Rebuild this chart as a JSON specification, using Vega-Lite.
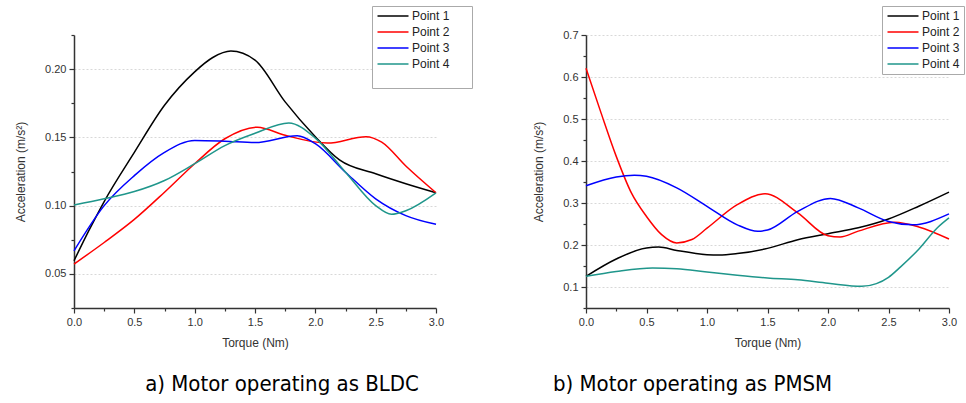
{
  "$schema": "https://vega.github.io/schema/vega-lite/v6.json",
  "padding": {"left": 14, "top": 5, "right": 2, "bottom": 8},
  "bounds": "flush",
  "spacing": 150,
  "background": "white",
  "config": {
    "view": {"stroke": null},
    "axis": {
      "labelFont": "Liberation Sans", "labelFontSize": 11, "labelColor": "#333",
      "titleFont": "Liberation Sans", "titleFontSize": 12, "titleColor": "#333", "titleFontWeight": "normal",
      "domainColor": "#333", "domainWidth": 1.5, "tickColor": "#333", "tickWidth": 1.2,
      "labelOverlap": false, "labelFlush": false
    },
    "legend": {
      "orient": "none", "strokeColor": "#aaa", "fillColor": "white", "padding": 4,
      "symbolType": "M-3.1,0H3.1", "symbolSize": 100, "symbolStrokeWidth": 1.5, "symbolOffset": 11,
      "labelFont": "Liberation Sans", "labelFontSize": 12, "labelColor": "#222",
      "rowPadding": 4, "labelOffset": 13
    },
    "title": {"font": "DejaVu Sans Condensed", "fontSize": 22, "fontWeight": "normal", "color": "#000", "orient": "bottom"}
  },
  "datasets": {
    "bldc": [
      {"t": 0, "s": "Point 1", "a": 0.0596}, {"t": 0.125, "s": "Point 1", "a": 0.082}, {"t": 0.25, "s": "Point 1", "a": 0.103},
      {"t": 0.5, "s": "Point 1", "a": 0.139}, {"t": 0.75, "s": "Point 1", "a": 0.1735}, {"t": 1.0, "s": "Point 1", "a": 0.198},
      {"t": 1.15, "s": "Point 1", "a": 0.2085}, {"t": 1.3, "s": "Point 1", "a": 0.2132}, {"t": 1.5, "s": "Point 1", "a": 0.2066},
      {"t": 1.75, "s": "Point 1", "a": 0.176}, {"t": 2.0, "s": "Point 1", "a": 0.1505}, {"t": 2.2, "s": "Point 1", "a": 0.1335},
      {"t": 2.5, "s": "Point 1", "a": 0.1233}, {"t": 2.75, "s": "Point 1", "a": 0.116}, {"t": 3.0, "s": "Point 1", "a": 0.1094},

      {"t": 0, "s": "Point 2", "a": 0.0572}, {"t": 0.25, "s": "Point 2", "a": 0.073}, {"t": 0.5, "s": "Point 2", "a": 0.0899},
      {"t": 0.75, "s": "Point 2", "a": 0.1098}, {"t": 1.0, "s": "Point 2", "a": 0.1307}, {"t": 1.25, "s": "Point 2", "a": 0.149},
      {"t": 1.52, "s": "Point 2", "a": 0.1575}, {"t": 1.75, "s": "Point 2", "a": 0.1515}, {"t": 2.1, "s": "Point 2", "a": 0.1458},
      {"t": 2.42, "s": "Point 2", "a": 0.1505}, {"t": 2.55, "s": "Point 2", "a": 0.1465}, {"t": 2.75, "s": "Point 2", "a": 0.129},
      {"t": 3.0, "s": "Point 2", "a": 0.1094},

      {"t": 0, "s": "Point 3", "a": 0.0669}, {"t": 0.25, "s": "Point 3", "a": 0.1}, {"t": 0.5, "s": "Point 3", "a": 0.122},
      {"t": 0.75, "s": "Point 3", "a": 0.139}, {"t": 1.0, "s": "Point 3", "a": 0.1478}, {"t": 1.25, "s": "Point 3", "a": 0.1472},
      {"t": 1.5, "s": "Point 3", "a": 0.1462}, {"t": 1.85, "s": "Point 3", "a": 0.1512}, {"t": 2.0, "s": "Point 3", "a": 0.1454},
      {"t": 2.25, "s": "Point 3", "a": 0.1245}, {"t": 2.5, "s": "Point 3", "a": 0.105}, {"t": 2.75, "s": "Point 3", "a": 0.0927},
      {"t": 3.0, "s": "Point 3", "a": 0.0863},

      {"t": 0, "s": "Point 4", "a": 0.1005}, {"t": 0.25, "s": "Point 4", "a": 0.105}, {"t": 0.5, "s": "Point 4", "a": 0.1103},
      {"t": 0.75, "s": "Point 4", "a": 0.1184}, {"t": 1.0, "s": "Point 4", "a": 0.1307}, {"t": 1.25, "s": "Point 4", "a": 0.144},
      {"t": 1.5, "s": "Point 4", "a": 0.153}, {"t": 1.78, "s": "Point 4", "a": 0.1606}, {"t": 2.0, "s": "Point 4", "a": 0.1495},
      {"t": 2.25, "s": "Point 4", "a": 0.1245}, {"t": 2.5, "s": "Point 4", "a": 0.1}, {"t": 2.63, "s": "Point 4", "a": 0.0937},
      {"t": 2.75, "s": "Point 4", "a": 0.0963}, {"t": 3.0, "s": "Point 4", "a": 0.1094}
    ],
    "pmsm": [
      {"t": 0, "s": "Point 1", "a": 0.1254}, {"t": 0.25, "s": "Point 1", "a": 0.1667}, {"t": 0.5, "s": "Point 1", "a": 0.193},
      {"t": 0.6, "s": "Point 1", "a": 0.195}, {"t": 0.75, "s": "Point 1", "a": 0.187}, {"t": 1.0, "s": "Point 1", "a": 0.177},
      {"t": 1.1, "s": "Point 1", "a": 0.176}, {"t": 1.25, "s": "Point 1", "a": 0.1795}, {"t": 1.5, "s": "Point 1", "a": 0.192},
      {"t": 1.75, "s": "Point 1", "a": 0.2127}, {"t": 2.0, "s": "Point 1", "a": 0.227}, {"t": 2.25, "s": "Point 1", "a": 0.241},
      {"t": 2.5, "s": "Point 1", "a": 0.262}, {"t": 2.75, "s": "Point 1", "a": 0.2924}, {"t": 3.0, "s": "Point 1", "a": 0.326},

      {"t": 0, "s": "Point 2", "a": 0.621}, {"t": 0.125, "s": "Point 2", "a": 0.514}, {"t": 0.25, "s": "Point 2", "a": 0.411},
      {"t": 0.375, "s": "Point 2", "a": 0.324}, {"t": 0.5, "s": "Point 2", "a": 0.268}, {"t": 0.625, "s": "Point 2", "a": 0.2246},
      {"t": 0.75, "s": "Point 2", "a": 0.205}, {"t": 0.875, "s": "Point 2", "a": 0.213}, {"t": 1.0, "s": "Point 2", "a": 0.24},
      {"t": 1.25, "s": "Point 2", "a": 0.296}, {"t": 1.48, "s": "Point 2", "a": 0.322}, {"t": 1.75, "s": "Point 2", "a": 0.2765},
      {"t": 2.0, "s": "Point 2", "a": 0.222}, {"t": 2.1, "s": "Point 2", "a": 0.219}, {"t": 2.25, "s": "Point 2", "a": 0.233},
      {"t": 2.55, "s": "Point 2", "a": 0.254}, {"t": 2.75, "s": "Point 2", "a": 0.243}, {"t": 3.0, "s": "Point 2", "a": 0.2143},

      {"t": 0, "s": "Point 3", "a": 0.341}, {"t": 0.25, "s": "Point 3", "a": 0.362}, {"t": 0.4, "s": "Point 3", "a": 0.366},
      {"t": 0.5, "s": "Point 3", "a": 0.3635}, {"t": 0.75, "s": "Point 3", "a": 0.336}, {"t": 1.0, "s": "Point 3", "a": 0.292},
      {"t": 1.25, "s": "Point 3", "a": 0.248}, {"t": 1.42, "s": "Point 3", "a": 0.2325}, {"t": 1.5, "s": "Point 3", "a": 0.2355},
      {"t": 1.75, "s": "Point 3", "a": 0.28}, {"t": 2.02, "s": "Point 3", "a": 0.311}, {"t": 2.25, "s": "Point 3", "a": 0.2884},
      {"t": 2.5, "s": "Point 3", "a": 0.256}, {"t": 2.7, "s": "Point 3", "a": 0.248}, {"t": 3.0, "s": "Point 3", "a": 0.274},

      {"t": 0, "s": "Point 4", "a": 0.1254}, {"t": 0.25, "s": "Point 4", "a": 0.137}, {"t": 0.55, "s": "Point 4", "a": 0.1455},
      {"t": 0.75, "s": "Point 4", "a": 0.1437}, {"t": 1.0, "s": "Point 4", "a": 0.1357}, {"t": 1.25, "s": "Point 4", "a": 0.128},
      {"t": 1.5, "s": "Point 4", "a": 0.1214}, {"t": 1.75, "s": "Point 4", "a": 0.117}, {"t": 2.0, "s": "Point 4", "a": 0.109},
      {"t": 2.28, "s": "Point 4", "a": 0.1015}, {"t": 2.4, "s": "Point 4", "a": 0.108}, {"t": 2.5, "s": "Point 4", "a": 0.123},
      {"t": 2.6, "s": "Point 4", "a": 0.148}, {"t": 2.75, "s": "Point 4", "a": 0.19}, {"t": 2.9, "s": "Point 4", "a": 0.24},
      {"t": 3.0, "s": "Point 4", "a": 0.2645}
    ]
  },
  "resolve": {"scale": {"x": "independent", "y": "independent", "color": "independent"}, "legend": {"color": "independent"}},
  "hconcat": [
    {
      "width": 362, "height": 273,
      "title": {"text": "a) Motor operating as BLDC", "offset": 26, "dx": 27},
      "data": {"name": "bldc"},
      "mark": {"type": "line", "interpolate": "monotone", "strokeWidth": 1.5},
      "encoding": {
        "x": {"field": "t", "type": "quantitative", "scale": {"domain": [0, 3], "nice": false},
          "axis": {"title": "Torque (Nm)", "grid": false,
            "values": [0, 0.25, 0.5, 0.75, 1, 1.25, 1.5, 1.75, 2, 2.25, 2.5, 2.75, 3],
            "labelExpr": "round(datum.value*4) % 2 == 0 ? format(datum.value, '.1f') : ''",
            "tickSize": {"condition": {"test": "round(datum.value*4) % 2 == 0", "value": 5}, "value": 3},
            "labelPadding": 3, "titlePadding": 10}},
        "y": {"field": "a", "type": "quantitative", "scale": {"domain": [0.025, 0.225], "nice": false, "zero": false},
          "axis": {"title": "Acceleration (m/s²)", "grid": true,
            "values": [0.025, 0.05, 0.075, 0.1, 0.125, 0.15, 0.175, 0.2, 0.225],
            "labelExpr": "abs(datum.value*20 - round(datum.value*20)) < 0.001 ? format(datum.value, '.2f') : ''",
            "tickSize": {"condition": {"test": "abs(datum.value*20 - round(datum.value*20)) < 0.001", "value": 5}, "value": 3},
            "gridOpacity": {"condition": {"test": "abs(datum.value*20 - round(datum.value*20)) < 0.001", "value": 1}, "value": 0},
            "gridColor": "#d8d8d8", "gridDash": [2, 2], "gridWidth": 1,
            "labelPadding": 3, "titlePadding": 17}},
        "color": {"field": "s", "type": "nominal",
          "scale": {"domain": ["Point 1", "Point 2", "Point 3", "Point 4"], "range": ["#000000", "#ff0000", "#0000ff", "#1f968b"]},
          "legend": {"title": "MMMMMMMMMMM", "titleOrient": "bottom", "titleFont": "Liberation Sans", "titleFontSize": 10, "titlePadding": 4,
            "titleOpacity": 0, "titleLimit": 200,
            "legendX": 298, "legendY": -29}}
      }
    },
    {
      "width": 363, "height": 273,
      "title": {"text": "b) Motor operating as PMSM", "offset": 26, "dx": -75},
      "data": {"name": "pmsm"},
      "mark": {"type": "line", "interpolate": "monotone", "strokeWidth": 1.5},
      "encoding": {
        "x": {"field": "t", "type": "quantitative", "scale": {"domain": [0, 3], "nice": false},
          "axis": {"title": "Torque (Nm)", "grid": false,
            "values": [0, 0.25, 0.5, 0.75, 1, 1.25, 1.5, 1.75, 2, 2.25, 2.5, 2.75, 3],
            "labelExpr": "round(datum.value*4) % 2 == 0 ? format(datum.value, '.1f') : ''",
            "tickSize": {"condition": {"test": "round(datum.value*4) % 2 == 0", "value": 5}, "value": 3},
            "labelPadding": 3, "titlePadding": 10}},
        "y": {"field": "a", "type": "quantitative", "scale": {"domain": [0.05, 0.7], "nice": false, "zero": false},
          "axis": {"title": "Acceleration (m/s²)", "grid": true,
            "values": [0.05, 0.1, 0.15, 0.2, 0.25, 0.3, 0.35, 0.4, 0.45, 0.5, 0.55, 0.6, 0.65, 0.7],
            "labelExpr": "abs(datum.value*10 - round(datum.value*10)) < 0.001 ? format(datum.value, '.1f') : ''",
            "tickSize": {"condition": {"test": "abs(datum.value*10 - round(datum.value*10)) < 0.001", "value": 5}, "value": 3},
            "gridOpacity": {"condition": {"test": "abs(datum.value*10 - round(datum.value*10)) < 0.001", "value": 1}, "value": 0},
            "gridColor": "#d8d8d8", "gridDash": [2, 2], "gridWidth": 1,
            "labelPadding": 3, "titlePadding": 17}},
        "color": {"field": "s", "type": "nominal",
          "scale": {"domain": ["Point 1", "Point 2", "Point 3", "Point 4"], "range": ["#000000", "#ff0000", "#0000ff", "#1f968b"]},
          "legend": {"title": null, "legendX": 296, "legendY": -29}}
      }
    }
  ]
}
